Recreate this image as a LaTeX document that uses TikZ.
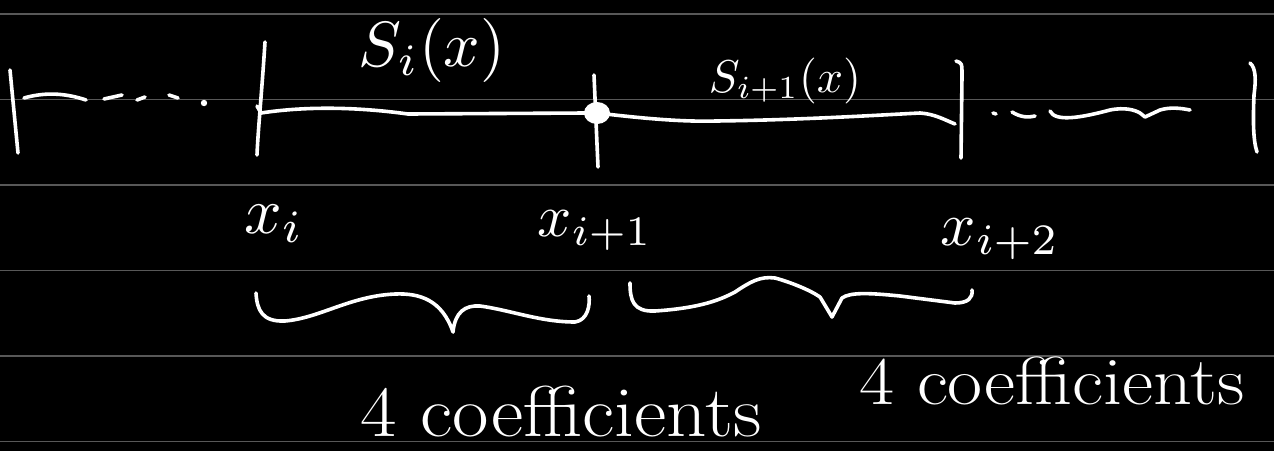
\documentclass[tikz,border=0pt]{standalone}
\usepackage{graphicx}
\usepackage{amsmath}
\definecolor{rulegray}{RGB}{88,88,88}
\begin{document}
\begin{tikzpicture}[x=1pt,y=-1pt,
  pen/.style={draw=white,line width=3.6pt,line cap=round,line join=round},
  rule/.style={draw=rulegray,line width=1.6pt},
  lbl/.style={text=white,inner sep=0pt,anchor=base}]
\fill[black] (0,0) rectangle (1274,451);
\useasboundingbox (0,0) rectangle (1274,451);
% ruled lines
\foreach \yy in {14,99.5,185,270.5,356,441.5} \draw[rule] (0,\yy) -- (1274,\yy);

% ticks
\coordinate (t0a) at (10,70);   \coordinate (t0b) at (18,153);
\coordinate (t1a) at (265,42);  \coordinate (t1b) at (257,155);
\coordinate (t2a) at (594,75);  \coordinate (t2b) at (598,167);
\coordinate (t3a) at (956,61);  \coordinate (t3b) at (961,158);
\coordinate (t4a) at (1250,63); \coordinate (t4b) at (1257,152);
\coordinate (p1) at (261,113);
\coordinate (p2) at (597,113);
\coordinate (p3) at (955,124);

\draw[pen] (t0a) -- (t0b);
\draw[pen] (t1a) .. controls (262,90) and (258,130) .. (t1b);
\draw[pen] (257,106) -- (p1);
\draw[pen] (t2a) -- (t2b);
\draw[pen] (t3a) .. controls (962,63) .. (962,76) -- (t3b);
\draw[pen] (t4a) .. controls (1256,68) and (1256,80) .. (1254,95) .. controls (1253,120) and (1253,140) .. (t4b);

% left dashed part
\draw[pen] (24,98) .. controls (45,92) and (65,93) .. (86,100);
\draw[pen] (104,99) -- (122,95);
\draw[pen] (137,100) -- (145,97);
\draw[pen] (169,95) -- (178,98);
\fill[white] (204,103) circle (3.2);

% main segments
\draw[pen] (p1) .. controls (300,107) and (350,106) .. (408,114) -- (585,113);
\fill[white] (p2) ellipse (13 and 11);
\draw[pen] (p2) .. controls (640,118) and (680,122) .. (716,121)
  .. controls (800,120) and (880,115) .. (920,113)
  .. controls (935,114) and (945,120) .. (p3);

% right dashed part
\draw[pen] (993,113) -- (996,114);
\draw[pen] (1012,112) .. controls (1020,117) and (1028,118) .. (1035,116);
\draw[pen] (1050,111) .. controls (1055,122) and (1080,118) .. (1110,110)
  .. controls (1125,107) and (1135,110) .. (1140,113) -- (1145,117) -- (1160,110)
  .. controls (1170,107) and (1180,108) .. (1190,110);

% braces
\draw[pen] (256,293) .. controls (257,310) and (262,322) .. (285,321)
  .. controls (320,318) and (350,296) .. (395,294)
  .. controls (420,293) and (442,300) .. (453,332)
  .. controls (455,312) and (465,305) .. (480,306)
  .. controls (510,310) and (540,322) .. (575,322)
  .. controls (588,320) and (590,305) .. (589,296);
\draw[pen] (630,283) .. controls (630,300) and (633,312) .. (655,311)
  .. controls (700,308) and (720,300) .. (735,292)
  .. controls (750,282) and (760,276) .. (775,278)
  .. controls (790,282) and (810,290) .. (820,297) -- (832,317) -- (842,298)
  .. controls (850,292) and (870,293) .. (900,296) -- (955,303)
  .. controls (968,303) and (973,298) .. (972,290);

% labels
\node[lbl] (si) at (432,66) {\scalebox{6.4}{$S_i(x)$}};
\node[lbl] (si1) at (785,92) {\scalebox{4.6}{$S_{i+1}(x)$}};
\node[lbl] (xi) at (274,233) {\scalebox{6.6}{$x_i$}};
\node[lbl] (xi1) at (595,236) {\scalebox{6.0}{$x_{i+1}$}};
\node[lbl] (xi2) at (1000,245) {\scalebox{6.2}{$x_{i+2}$}};
\node[lbl] (c1) at (561,436) {\scalebox{1.1}[1]{\fontsize{72}{76}\selectfont 4 coefficients}};
\node[lbl] (c2) at (1052,404) {\scalebox{1.12}[1]{\fontsize{68}{72}\selectfont 4 coefficients}};
\end{tikzpicture}
\end{document}
